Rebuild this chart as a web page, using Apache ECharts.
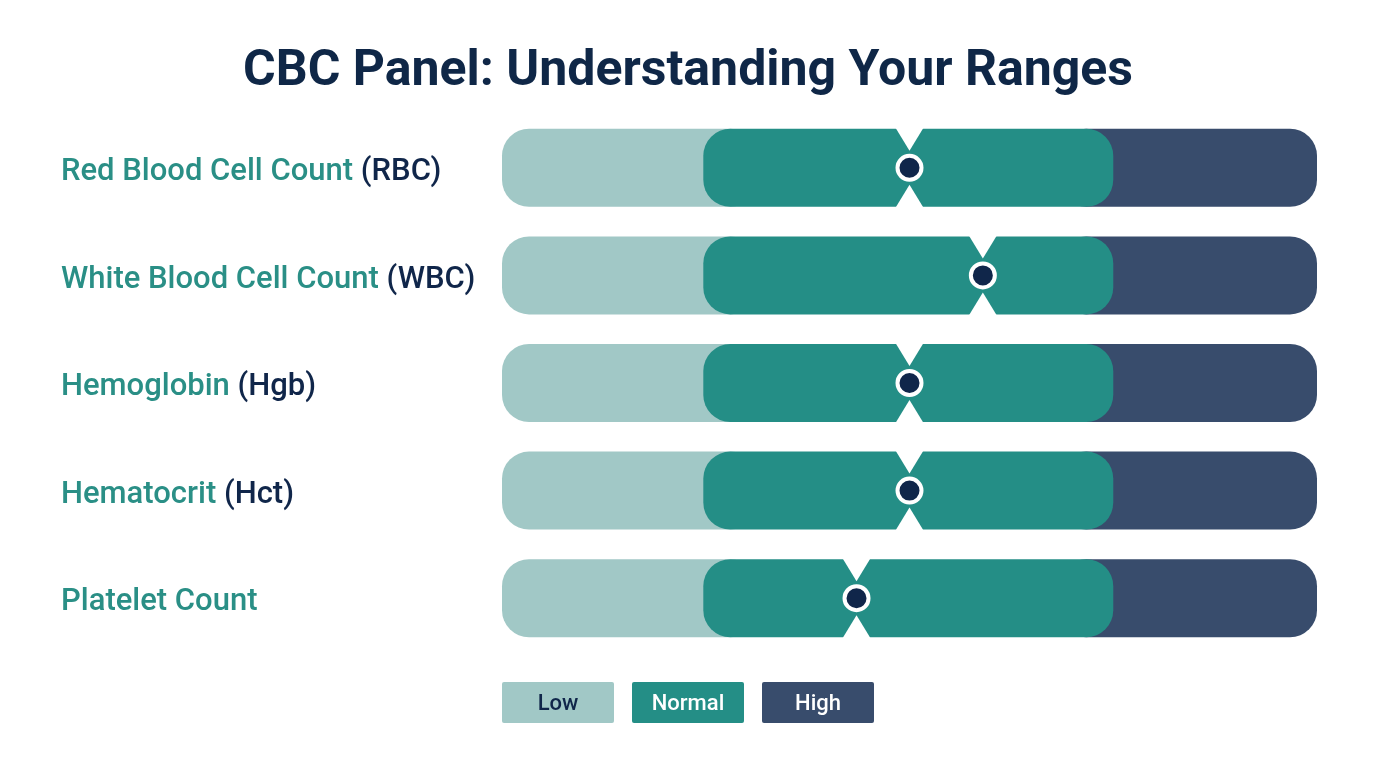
<!DOCTYPE html>
<html>
<head>
<meta charset="utf-8">
<script src="https://cdn.jsdelivr.net/npm/echarts@6/dist/echarts.min.js"></script>
<style>
html,body{margin:0;padding:0;background:#fff;}
#c{width:1376px;height:768px;}
</style>
</head>
<body>
<div id="c"></div>
<script>
// ---- data ----
const titleText = 'CBC Panel: Understanding Your Ranges';
const testNames = ['Red Blood Cell Count', 'White Blood Cell Count', 'Hemoglobin', 'Hematocrit', 'Platelet Count'];
const testAbbr = ['(RBC)', '(WBC)', '(Hgb)', '(Hct)', ''];
// scale positions on a normalised 0-100 range
const lowStart = [0, 0, 0, 0, 0];
const normalStart = [24.7, 24.7, 24.7, 24.7, 24.7];
const normalEnd = [75, 75, 75, 75, 75];
const highEnd = [100, 100, 100, 100, 100];
const resultPos = [50, 59, 50, 50, 43.5];
const rangeNames = ['Low', 'Normal', 'High'];

const colors = { low: '#a1c8c6', normal: '#248e86', high: '#384c6c', marker: '#10264a', label: '#2a8f86', dark: '#10264a' };
const legendColors = [colors.low, colors.normal, colors.high];
const legendTextColors = [colors.dark, '#ffffff', '#ffffff'];

const chart = echarts.init(document.getElementById('c'), null, { renderer: 'canvas' });

const seriesData = testNames.map((n, i) => [i, lowStart[i], normalStart[i], normalEnd[i], highEnd[i], resultPos[i]]);

const BAR_H = 78, R = 27;

function renderItem(params, api) {
  const idx = api.value(0);
  const y = api.coord([0, idx])[1];
  const x0 = api.coord([api.value(1), idx])[0];
  const xn0 = api.coord([api.value(2), idx])[0];
  const xn1 = api.coord([api.value(3), idx])[0];
  const x1 = api.coord([api.value(4), idx])[0];
  const xm = api.coord([api.value(5), idx])[0];
  const top = y - BAR_H / 2, bot = y + BAR_H / 2;
  const nw = 14, nd = 22;
  return {
    type: 'group',
    children: [
      { type: 'rect', shape: { x: x0, y: top, width: (xn0 - x0) + 2 * R, height: BAR_H, r: R }, style: { fill: colors.low } },
      { type: 'rect', shape: { x: xn1 - 2 * R, y: top, width: (x1 - xn1) + 2 * R, height: BAR_H, r: R }, style: { fill: colors.high } },
      { type: 'rect', shape: { x: xn0, y: top, width: xn1 - xn0, height: BAR_H, r: R }, style: { fill: colors.normal } },
      { type: 'polygon', shape: { points: [[xm - nw, top - 1], [xm + nw, top - 1], [xm, top + nd]] }, style: { fill: '#ffffff' } },
      { type: 'polygon', shape: { points: [[xm - nw, bot + 1], [xm + nw, bot + 1], [xm, bot - nd]] }, style: { fill: '#ffffff' } },
      { type: 'circle', shape: { cx: xm, cy: y, r: 12 }, style: { fill: colors.marker, stroke: '#ffffff', lineWidth: 4 } }
    ]
  };
}

const legendX = [502, 632, 762];
const legendGraphics = rangeNames.map((name, i) => ({
  type: 'rect',
  left: legendX[i], top: 682,
  shape: { width: 112, height: 41, r: 2 },
  style: { fill: legendColors[i] },
  textContent: { style: { text: name, fill: legendTextColors[i], font: '500 22px Roboto' } },
  textConfig: { position: 'inside', offset: [0, 2] }
}));

chart.setOption({
  backgroundColor: '#ffffff',
  animation: false,
  title: {
    text: titleText, left: 'center', top: 42,
    textStyle: { fontFamily: 'Roboto', fontWeight: 'bold', fontSize: 50, color: '#0f2747' }
  },
  grid: { left: 502, right: 59, top: 114, bottom: 116 },
  xAxis: { type: 'value', min: 0, max: 100, show: false },
  yAxis: {
    type: 'category', data: testNames, inverse: true,
    axisLine: { show: false }, axisTick: { show: false }, splitLine: { show: false },
    axisLabel: {
      align: 'left', margin: 441,
      formatter: (v, i) => '{a|' + v + (testAbbr[i] ? ' ' : '') + '}' + (testAbbr[i] ? '{b|' + testAbbr[i] + '}' : ''),
      rich: {
        a: { fontFamily: 'Roboto', fontSize: 31, color: colors.label, fontWeight: 500, padding: [9, 0, 0, 0] },
        b: { fontFamily: 'Roboto', fontSize: 31, color: colors.dark, fontWeight: 500, padding: [9, 0, 0, 0] }
      }
    }
  },
  series: [{ type: 'custom', renderItem: renderItem, data: seriesData, encode: { x: [1, 2, 3, 4, 5], y: 0 } }],
  graphic: legendGraphics
});
</script>
</body>
</html>
